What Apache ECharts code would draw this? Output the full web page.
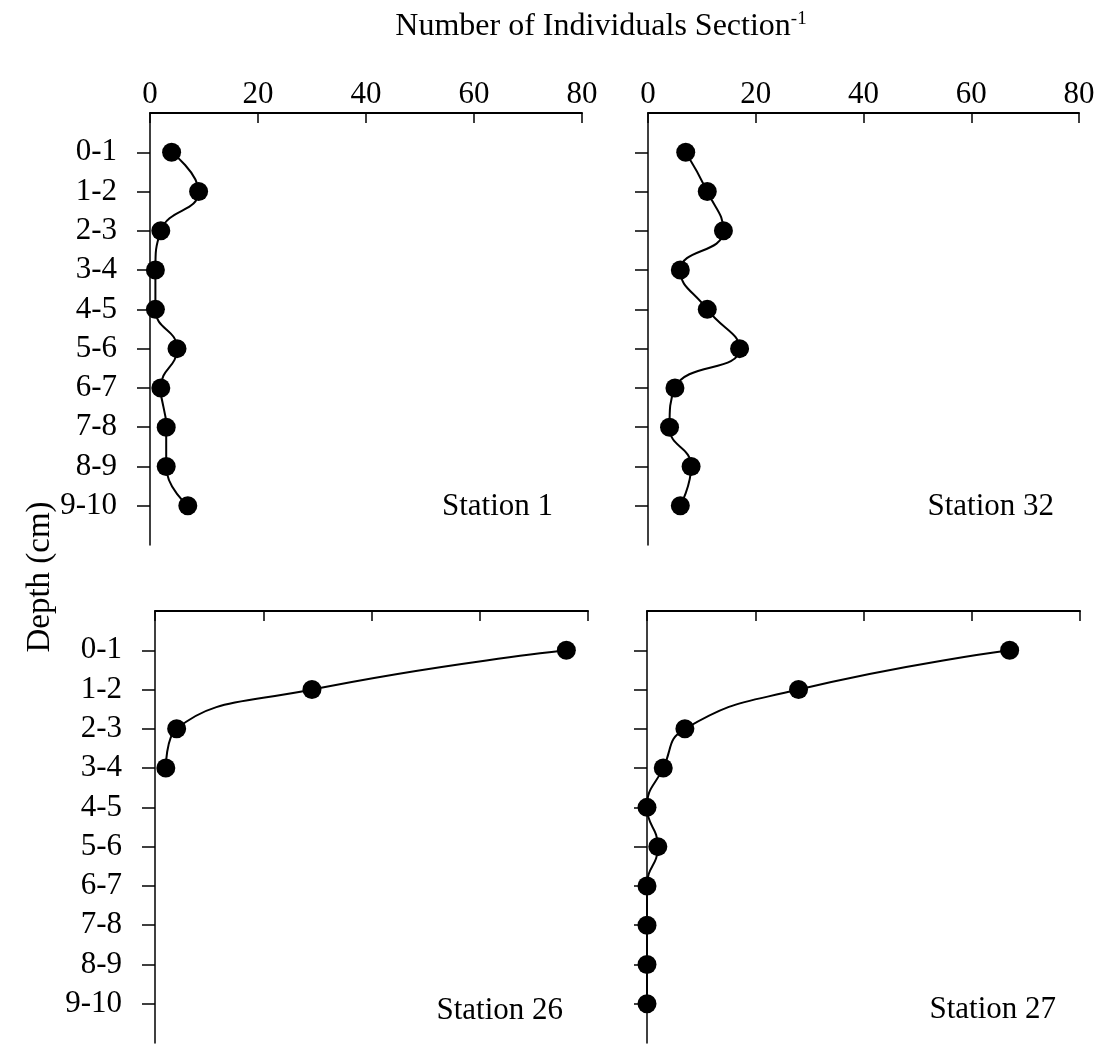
<!DOCTYPE html>
<html>
<head>
<meta charset="utf-8">
<script src="https://cdn.jsdelivr.net/npm/echarts@6/dist/echarts.min.js"></script>
<style>
html,body{margin:0;padding:0;background:#fff;}
#chart{width:1102px;height:1044px;}
</style>
</head>
<body>
<div id="chart"></div>
<script>
// ---- data ----
const depths = ['0-1','1-2','2-3','3-4','4-5','5-6','6-7','7-8','8-9','9-10'];
const xTickValues = [0, 20, 40, 60, 80];
const stationNames = ['Station 1', 'Station 32', 'Station 26', 'Station 27'];
const station1  = [4, 9, 2, 1, 1, 5, 2, 3, 3, 7];
const station32 = [7, 11, 14, 6, 11, 17, 5, 4, 8, 6];
const station26 = [76, 29, 4, 2];
const station27 = [67, 28, 7, 3, 0, 2, 0, 0, 0, 0];
const xTitle = 'Number of Individuals Section';
const xTitleSup = '-1';
const yTitle = 'Depth (cm)';

// ---- layout ----
const FONT = "'Liberation Serif', 'Times New Roman', serif";
const FS = 31;
const grids = [
  {left: 150, top: 113, width: 432, height: 432},
  {left: 648, top: 113, width: 431, height: 432},
  {left: 155, top: 611, width: 433, height: 432},
  {left: 647, top: 611, width: 433, height: 432}
];
const showXLabels = [true, true, false, false];
const showYLabels = [true, false, true, false];
const seriesData = [station1, station32, station26, station27];
const labelPos = [[553, 507], [1054, 507], [563, 1011], [1056, 1010]];

const depthIdx = depths.map((d, i) => i + 1);

const xAxes = grids.map((g, i) => ({
  gridIndex: i, type: 'value', position: 'top',
  min: xTickValues[0], max: xTickValues[xTickValues.length - 1],
  interval: xTickValues[1] - xTickValues[0],
  axisLine: {show: true, onZero: false, lineStyle: {color: '#000', width: 2}},
  axisTick: {show: true, inside: true, length: 10, lineStyle: {color: '#000', width: 1.5}},
  axisLabel: {show: showXLabels[i], color: '#000', fontFamily: FONT, fontSize: FS, margin: 3},
  splitLine: {show: false}
}));

const yAxes = grids.map((g, i) => ({
  gridIndex: i, type: 'value', inverse: true,
  min: 0, max: depths.length + 1, interval: 1,
  axisLine: {show: true, onZero: false, lineStyle: {color: '#000', width: 1.5}},
  axisTick: {show: true, inside: false, length: 13, customValues: depthIdx, lineStyle: {color: '#000', width: 1.5}},
  axisLabel: {show: showYLabels[i], customValues: depthIdx, color: '#000', fontFamily: FONT, fontSize: FS, margin: 33,
    formatter: v => depths[v - 1] || ''},
  splitLine: {show: false}
}));

const series = seriesData.map((vals, i) => ({
  type: 'line', xAxisIndex: i, yAxisIndex: i,
  data: vals.map((v, k) => [v, k + 1]),
  smooth: 0.5, clip: false,
  symbol: 'circle', symbolSize: 19,
  itemStyle: {color: '#000'},
  lineStyle: {color: '#000', width: 2},
  z: 5
}));

const graphics = [
  {
    type: 'text', x: 601, y: 27,
    style: {
      text: '{a|' + xTitle + '}{b|' + xTitleSup + '}',
      align: 'center', verticalAlign: 'middle',
      rich: {
        a: {fontFamily: FONT, fontSize: 32, fill: '#000', lineHeight: 35},
        b: {fontFamily: FONT, fontSize: 19, fill: '#000', verticalAlign: 'top', lineHeight: 35, padding: [0, 0, 12, 0]}
      }
    }
  },
  {
    type: 'text', x: 40, y: 577, rotation: Math.PI / 2,
    style: {text: yTitle, fontFamily: FONT, fontSize: 33, fill: '#000', align: 'center', verticalAlign: 'middle'}
  }
].concat(stationNames.map((n, i) => ({
  type: 'text', x: labelPos[i][0], y: labelPos[i][1],
  style: {text: n, fontFamily: FONT, fontSize: FS, fill: '#000', align: 'right', verticalAlign: 'middle'}
})));

const chart = echarts.init(document.getElementById('chart'));
chart.setOption({
  animation: false,
  backgroundColor: '#fff',
  grid: grids,
  xAxis: xAxes,
  yAxis: yAxes,
  series: series,
  graphic: graphics
});
</script>
</body>
</html>
